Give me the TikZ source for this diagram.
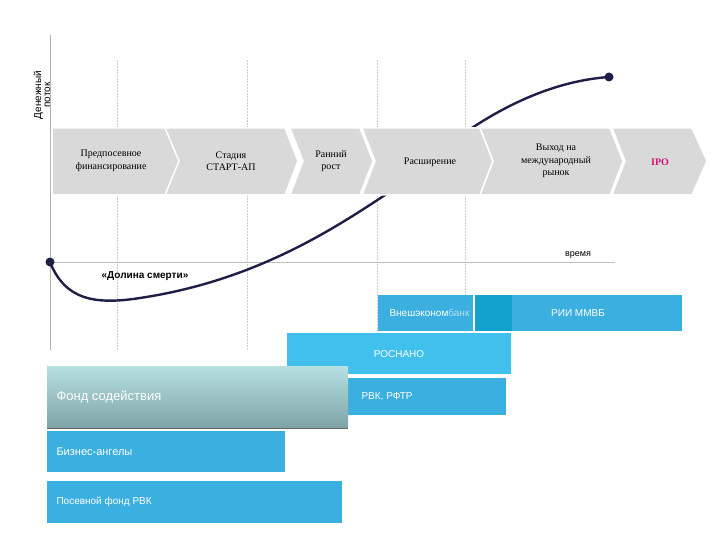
\documentclass[tikz,border=0pt]{standalone}
\usepackage{fontspec}
\setmainfont{Liberation Serif}
\newfontfamily\sans{Liberation Sans}
\definecolor{bl}{RGB}{60,175,225}
\definecolor{bld}{RGB}{20,160,205}
\definecolor{blr}{RGB}{65,192,238}
\definecolor{fst}{RGB}{182,224,226}
\definecolor{fsb}{RGB}{128,164,168}
\definecolor{ipo}{RGB}{210,20,120}
\definecolor{curve}{RGB}{30,30,70}
\begin{document}
\begin{tikzpicture}[x=1pt,y=-1pt,
  chev/.style={fill=gray!30,draw=white,line width=1.5pt},
  ctext/.style={align=center,font=\fontsize{10}{12.5}\selectfont},
  btext/.style={text=white,font=\sans\fontsize{10}{11}\selectfont},
  grid/.style={gray!40,dash pattern=on 2pt off 1pt,line width=0.4pt}]
\useasboundingbox (0,0) rectangle (720,540);
% grid
\foreach \x in {117,247,377,465}{\draw[grid] (\x,60) -- (\x,350);}
\draw[gray!60,line width=0.6pt] (50,35) -- (50,350);
\draw[gray!50,line width=0.6pt] (50,262) -- (615,262);
\node[rotate=90,align=center,font=\sans\fontsize{10}{9}\selectfont,inner sep=0pt] (ylab) at (42,95) {Денежный\\поток};
% curve (behind chevrons)
\coordinate (s) at (50,262);
\coordinate (e) at (609,77);
\draw[curve,line width=2.4pt] (s) .. controls (65,300) and (95,305) .. (140,298)
  .. controls (260,280) and (340,225) .. (400,185)
  .. controls (470,120) and (540,82) .. (e);
\fill[curve] (s) circle (4.5);
\fill[curve] (e) circle (4.5);
% chevrons
\draw[chev] (52,128) -- (168,128) -- (182,161) -- (168,195) -- (52,195) -- cycle;
\draw[chev] (165,128) -- (285,128) -- (298,161) -- (285,195) -- (165,195) -- (179,161) -- cycle;
\draw[chev] (290,128) -- (360,128) -- (373,161) -- (360,195) -- (290,195) -- (303,161) -- cycle;
\draw[chev] (362,128) -- (480,128) -- (493,161) -- (480,195) -- (362,195) -- (375,161) -- cycle;
\draw[chev] (480,128) -- (610,128) -- (623,161) -- (610,195) -- (480,195) -- (493,161) -- cycle;
\draw[chev] (612,128) -- (692,128) -- (707,161) -- (692,195) -- (612,195) -- (625,161) -- cycle;
\node[ctext] (c1) at (111,161) {Предпосевное\\финансирование};
\node[ctext] (c2) at (231,161) {Стадия\\СТАРТ-АП};
\node[ctext] (c3) at (331,161) {Ранний\\рост};
\node[ctext] (c4) at (430,162) {Расширение};
\node[ctext] (c5) at (556,161) {Выход на\\международный\\рынок};
\node[ctext,text=ipo,font=\bfseries\fontsize{10}{12}\selectfont] (c6) at (660,162) {IPO};
\node[font=\sans\fontsize{9}{9}\selectfont] (t) at (578,255) {время};
\node[font=\sans\bfseries\fontsize{10}{10}\selectfont] (d) at (145,276) {«Долина смерти»};
% boxes
\fill[bl] (378,295) rectangle (473,331);
\fill[bl] (475,295) rectangle (682,331);
\fill[bld] (475,295) rectangle (512,331);
\node[btext,anchor=west] (vb) at (386,313) {Внешэконом\textcolor{bl!40!white}{банк}};
\node[btext] (rii) at (578,313) {РИИ ММВБ};
\fill[blr] (287,333) rectangle (511,374);
\node[btext] (ros) at (399,354) {РОСНАНО};
\fill[bl] (348,378) rectangle (506,415);
\node[btext,anchor=west] (rvk) at (358,397) {РВК, РФТР};
\shade[top color=fst,bottom color=fsb] (47,366) rectangle (348,427);
\draw[gray!80!black,line width=1pt] (47,428) -- (348,428);
\node[btext,anchor=west,font=\sans\fontsize{13}{13}\selectfont] (fs) at (53,397) {Фонд содействия};
\fill[bl] (47,431) rectangle (285,472);
\node[btext,anchor=west,font=\sans\fontsize{11}{11}\selectfont] (ba) at (53,452) {Бизнес-ангелы};
\fill[bl] (47,481) rectangle (342,523);
\node[btext,anchor=west,font=\sans\fontsize{10}{10}\selectfont] (pf) at (53,502) {Посевной фонд РВК};
\end{tikzpicture}
\end{document}
